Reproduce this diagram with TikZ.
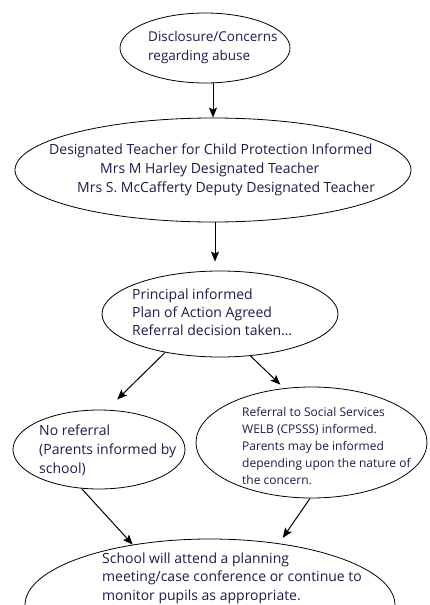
\documentclass[tikz,border=0pt]{standalone}
\usepackage{fontspec}
\setmainfont{Open Sans}
\usetikzlibrary{arrows.meta,shapes.geometric}
\definecolor{inkblue}{RGB}{28,28,72}
\newcommand\mainsize{\fontsize{14}{19}\selectfont}
\newcommand\smallsize{\fontsize{12}{17}\selectfont}

\begin{document}
\begin{tikzpicture}[x=1pt,y=-1pt]
	\useasboundingbox (0,0) rectangle (430,605);
	\clip (0,0) rectangle (430,605);
	\begin{scope}[every node/.style={ellipse,draw,line width=0.8pt,inner sep=0pt}]
		\node (Disclosure) at (205,48) [minimum width=170, minimum height=70] {};
		\node (Designated) at (213,170) [minimum width=396, minimum height=104] {};
		\node (Principal) at (220,314) [minimum width=236, minimum height=86] {};
		\node (No referral) at (99,449.5) [minimum width=172, minimum height=79] {};
		\node (Referral) at (311.5,442.5) [minimum width=231, minimum height=111] {};
		\node (School) at (210,605) [minimum width=370, minimum height=132] {};
	\end{scope}
	\begin{scope}[every node/.style={anchor=west,align=left,text=inkblue,inner sep=0pt,font=\mainsize}]
		\node (Disclosure text) at (148,47.5) [font=\fontsize{13.5}{19}\selectfont] {Disclosure/Concerns\\regarding abuse};
		\node (Designated text) at (49,170) {Designated Teacher for Child Protection Informed\\
			\hspace*{51pt}Mrs M Harley Designated Teacher\\
			\hspace*{28pt}Mrs S. McCafferty Deputy Designated Teacher};
		\node (Principal text) at (132,312) [font=\fontsize{14}{18}\selectfont] {Principal informed\\Plan of Action Agreed\\Referral decision taken\dots};
		\node (No referral text) at (39,450) {No referral\\(Parents informed by\\school)};
		\node (Referral text) at (242,446) [font=\smallsize] {Referral to Social Services\\WELB (CPSSS) informed.\\Parents may be informed\\depending upon the nature of\\the concern.};
		\node (School text) at (102,578) [font=\fontsize{14}{18.5}\selectfont] {School will attend a planning\\meeting/case conference or continue to\\monitor pupils as appropriate.};
	\end{scope}
	\begin{scope}[>={Stealth[length=10pt,width=8pt,inset=2pt]}, line width=1pt]
	\path [->] ([xshift=8]Disclosure.south) edge (Designated.north);
	\path [->] ([xshift=2]Designated.south) edge ([xshift=-5,yshift=9]Principal.north);
	\path [->] (Principal.215) edge ([yshift=11]No referral.65);
	\path [->] (Principal.306) edge ([yshift=4]Referral.120);
	\path [->] (No referral.246) edge (School.142);
	\path [->] ([xshift=-1.5]Referral.south) edge ([yshift=6]School.40);
	\end{scope}
\end{tikzpicture}
\end{document}
